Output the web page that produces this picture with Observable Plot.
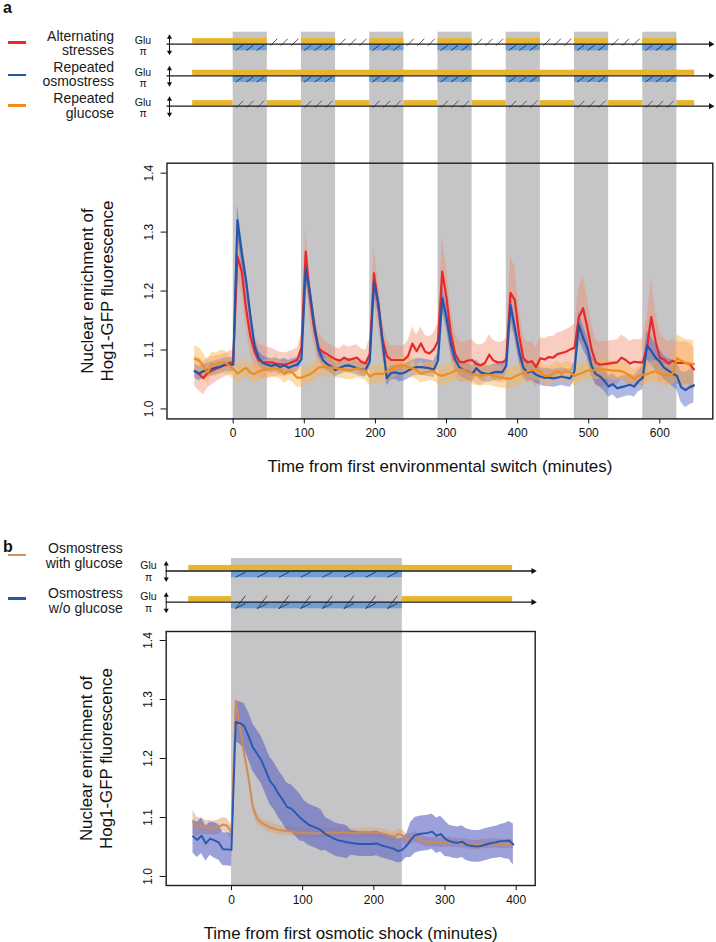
<!DOCTYPE html>
<html>
<head>
<meta charset="utf-8">
<script src="https://cdn.jsdelivr.net/npm/d3@7"></script>
<script src="https://cdn.jsdelivr.net/npm/@observablehq/plot@0.6"></script>
<style>
  body { margin: 0; background: #fff; font-family: "Liberation Sans", Arial, Helvetica, sans-serif; }
  #root { position: relative; width: 716px; height: 942px; overflow: hidden; background: #fff; }
  .abs { position: absolute; left: 0; }
  .lg { position: absolute; font-size: 14px; line-height: 14.5px; text-align: right; color: #1a1a1a; white-space: nowrap; }
  .sw { position: absolute; height: 2.6px; width: 17.5px; left: 8px; }
  .pl { position: absolute; left: 3px; font-size: 16px; font-weight: bold; line-height: 16px; color: #111; }
</style>
</head>
<body>
<div id="root"></div>
<script>
// ---------------- DATA ----------------
// Panel a: time grid (minutes) and mean / half-width of the confidence band
const timesA = d3.range(-54, 649, 6);
const redA = [1.064,1.059,1.052,1.061,1.065,1.068,1.071,1.074,1.078,1.079,
  1.259,1.233,1.171,1.124,1.097,1.083,1.079,1.079,1.079,1.077,
  1.076,1.075,1.077,1.080,1.083,1.104,1.267,1.188,1.135,1.103,
  1.097,1.093,1.088,1.084,1.082,1.087,1.083,1.085,1.087,1.080,
  1.077,1.093,1.230,1.177,1.118,1.090,1.083,1.083,1.083,1.083,
  1.090,1.111,1.098,1.111,1.097,1.094,1.101,1.115,1.233,1.188,
  1.129,1.094,1.080,1.079,1.082,1.083,1.076,1.074,1.078,1.092,
  1.082,1.079,1.079,1.083,1.197,1.185,1.126,1.086,1.079,1.081,
  1.071,1.086,1.084,1.088,1.087,1.093,1.095,1.097,1.101,1.104,
  1.155,1.171,1.138,1.101,1.079,1.075,1.076,1.077,1.078,1.079,
  1.087,1.083,1.077,1.080,1.079,1.079,1.104,1.156,1.115,1.087,
  1.084,1.077,1.082,1.078,1.078,1.078,1.076,1.067];
const blueA = [1.064,1.060,1.064,1.066,1.068,1.070,1.072,1.075,1.075,1.075,
  1.320,1.265,1.219,1.160,1.107,1.086,1.078,1.075,1.073,1.075,
  1.071,1.074,1.070,1.073,1.075,1.084,1.238,1.197,1.143,1.101,
  1.083,1.076,1.072,1.066,1.070,1.073,1.074,1.072,1.069,1.067,
  1.066,1.080,1.215,1.180,1.115,1.052,1.061,1.062,1.060,1.061,
  1.065,1.069,1.071,1.071,1.070,1.069,1.067,1.082,1.188,1.155,
  1.112,1.084,1.071,1.066,1.063,1.059,1.069,1.062,1.060,1.059,
  1.062,1.063,1.062,1.073,1.176,1.138,1.098,1.070,1.062,1.064,
  1.058,1.055,1.053,1.053,1.052,1.053,1.055,1.053,1.052,1.064,
  1.143,1.121,1.104,1.073,1.059,1.055,1.048,1.038,1.042,1.035,
  1.037,1.039,1.041,1.038,1.047,1.053,1.108,1.098,1.087,1.080,
  1.070,1.065,1.060,1.056,1.037,1.032,1.037,1.040];
const orangeA = [1.085,1.082,1.073,1.062,1.076,1.075,1.079,1.079,1.074,1.068,
  1.060,1.065,1.070,1.062,1.059,1.064,1.066,1.067,1.069,1.069,
  1.067,1.059,1.065,1.061,1.053,1.053,1.056,1.059,1.064,1.070,
  1.071,1.071,1.070,1.069,1.068,1.067,1.066,1.066,1.069,1.067,
  1.065,1.055,1.059,1.060,1.059,1.064,1.067,1.070,1.074,1.074,
  1.071,1.069,1.066,1.060,1.062,1.064,1.064,1.058,1.056,1.059,
  1.061,1.065,1.067,1.066,1.062,1.059,1.058,1.056,1.058,1.058,
  1.056,1.055,1.053,1.052,1.051,1.055,1.058,1.061,1.064,1.066,
  1.065,1.064,1.056,1.056,1.060,1.064,1.060,1.064,1.062,1.056,
  1.059,1.062,1.065,1.065,1.066,1.067,1.067,1.066,1.065,1.065,
  1.064,1.061,1.056,1.051,1.056,1.058,1.059,1.062,1.064,1.060,
  1.058,1.057,1.060,1.086,1.082,1.078,1.077,1.076];
const redSpreadA = [0.026,0.028,0.028,0.026,0.024,0.022,0.020,0.020,0.020,0.020,
  0.040,0.036,0.032,0.030,0.028,0.028,0.028,0.026,0.024,0.022,
  0.020,0.020,0.020,0.020,0.020,0.024,0.040,0.036,0.030,0.026,
  0.022,0.020,0.020,0.020,0.020,0.022,0.022,0.022,0.022,0.022,
  0.022,0.026,0.045,0.040,0.032,0.026,0.024,0.024,0.024,0.024,
  0.026,0.028,0.028,0.028,0.028,0.028,0.028,0.030,0.058,0.050,
  0.042,0.036,0.034,0.034,0.034,0.034,0.034,0.034,0.034,0.034,
  0.034,0.034,0.034,0.036,0.062,0.056,0.046,0.036,0.034,0.034,
  0.034,0.035,0.035,0.035,0.036,0.036,0.036,0.037,0.037,0.040,
  0.050,0.056,0.050,0.042,0.038,0.038,0.038,0.038,0.038,0.038,
  0.038,0.038,0.038,0.038,0.038,0.040,0.050,0.066,0.052,0.042,
  0.036,0.036,0.036,0.036,0.036,0.036,0.036,0.036];
const blueSpreadA = [0.012,0.012,0.012,0.012,0.012,0.012,0.012,0.012,0.012,0.012,
  0.026,0.022,0.018,0.016,0.014,0.012,0.012,0.012,0.012,0.012,
  0.012,0.012,0.012,0.012,0.012,0.012,0.020,0.018,0.015,0.013,
  0.012,0.012,0.012,0.012,0.012,0.012,0.012,0.012,0.012,0.012,
  0.012,0.012,0.020,0.018,0.015,0.013,0.012,0.012,0.014,0.014,
  0.014,0.014,0.014,0.014,0.014,0.014,0.014,0.014,0.022,0.020,
  0.016,0.014,0.014,0.014,0.014,0.014,0.014,0.014,0.014,0.014,
  0.014,0.014,0.014,0.014,0.020,0.018,0.016,0.015,0.015,0.015,
  0.015,0.015,0.015,0.015,0.015,0.015,0.015,0.015,0.015,0.016,
  0.022,0.020,0.018,0.018,0.018,0.018,0.018,0.018,0.018,0.018,
  0.018,0.018,0.018,0.018,0.018,0.020,0.024,0.024,0.022,0.020,
  0.020,0.020,0.022,0.024,0.026,0.030,0.030,0.030];
const orangeSpreadA = [0.022,0.022,0.022,0.020,0.020,0.020,0.020,0.020,0.018,0.016,
  0.016,0.016,0.016,0.016,0.016,0.016,0.016,0.016,0.016,0.016,
  0.016,0.016,0.016,0.016,0.016,0.016,0.016,0.016,0.016,0.016,
  0.016,0.016,0.016,0.016,0.016,0.016,0.016,0.016,0.016,0.016,
  0.016,0.016,0.016,0.016,0.016,0.016,0.016,0.016,0.016,0.016,
  0.016,0.016,0.016,0.016,0.016,0.016,0.016,0.017,0.017,0.017,
  0.017,0.017,0.017,0.017,0.018,0.018,0.018,0.018,0.018,0.018,
  0.018,0.018,0.018,0.018,0.018,0.018,0.018,0.018,0.017,0.017,
  0.017,0.017,0.017,0.017,0.017,0.017,0.017,0.017,0.017,0.017,
  0.016,0.016,0.016,0.016,0.016,0.016,0.016,0.016,0.016,0.016,
  0.016,0.016,0.016,0.016,0.016,0.018,0.018,0.018,0.018,0.018,
  0.018,0.018,0.018,0.040,0.040,0.040,0.040,0.040];

// Panel a: environment schedule (minutes)
const stressStartsA = [0, 96, 192, 288, 384, 480, 576];
const stressLenA = 48;
const conditionsA = [["Alternating", "stresses"], ["Repeated", "osmostress"], ["Repeated", "glucose"]];
const glucoseOnA = [
  [[-57,48],[96,144],[192,240],[288,336],[384,432],[480,528],[576,624]],
  [[-57,649]],
  [[-57,0],[48,96],[144,192],[240,288],[336,384],[432,480],[528,576],[624,649]]
];
const glucoseOffA = [
  [[48,96],[144,192],[240,288],[336,384],[432,480],[528,576]],
  [],
  [[0,48],[96,144],[192,240],[288,336],[384,432],[480,528],[576,624]]
];
const osmoA = [
  [[0,48],[96,144],[192,240],[288,336],[384,432],[480,528],[576,624]],
  [[0,48],[96,144],[192,240],[288,336],[384,432],[480,528],[576,624]],
  []
];
const xTicksA = [0, 100, 200, 300, 400, 500, 600];
const xTitleA = "Time from first environmental switch (minutes)";

// Panel b
const timesB = d3.range(-54, 397, 6);
const brownB = [1.092,1.084,1.085,1.083,1.083,1.082,1.084,1.088,1.086,1.075,
  1.298,1.252,1.208,1.168,1.118,1.098,1.091,1.087,1.083,1.081,
  1.079,1.078,1.077,1.076,1.075,1.074,1.074,1.073,1.073,1.073,
  1.074,1.074,1.075,1.074,1.074,1.075,1.074,1.074,1.073,1.073,
  1.074,1.074,1.074,1.074,1.073,1.072,1.070,1.067,1.072,1.070,
  1.061,1.064,1.067,1.063,1.060,1.058,1.058,1.058,1.057,1.058,
  1.058,1.057,1.057,1.056,1.055,1.054,1.053,1.054,1.055,1.055,
  1.056,1.056,1.055,1.055,1.055,1.055];
const blueB = [1.068,1.062,1.069,1.056,1.064,1.061,1.058,1.046,1.046,1.045,
  1.262,1.260,1.255,1.238,1.219,1.208,1.197,1.180,1.162,1.153,
  1.140,1.130,1.118,1.115,1.108,1.100,1.094,1.088,1.085,1.082,
  1.078,1.072,1.068,1.064,1.061,1.060,1.058,1.057,1.056,1.055,
  1.055,1.055,1.055,1.056,1.053,1.051,1.049,1.047,1.043,1.045,
  1.052,1.062,1.070,1.072,1.073,1.074,1.076,1.069,1.072,1.064,
  1.060,1.058,1.057,1.059,1.054,1.052,1.051,1.051,1.053,1.055,
  1.057,1.058,1.060,1.060,1.061,1.054];
const brownSpreadB = [0.020,0.016,0.014,0.012,0.012,0.012,0.012,0.012,0.012,0.012,
  0.012,0.012,0.012,0.012,0.010,0.010,0.008,0.008,0.008,0.008,
  0.008,0.008,0.008,0.008,0.008,0.008,0.008,0.008,0.008,0.008,
  0.008,0.008,0.008,0.008,0.008,0.008,0.008,0.008,0.008,0.008,
  0.008,0.008,0.008,0.008,0.008,0.008,0.008,0.008,0.009,0.010,
  0.010,0.009,0.009,0.008,0.008,0.008,0.008,0.008,0.008,0.008,
  0.008,0.008,0.008,0.008,0.008,0.008,0.008,0.008,0.008,0.008,
  0.008,0.008,0.008,0.008,0.008,0.008];
const blueSpreadB = [0.028,0.030,0.030,0.030,0.028,0.030,0.030,0.028,0.028,0.028,
  0.034,0.036,0.038,0.040,0.040,0.040,0.040,0.040,0.040,0.040,
  0.040,0.040,0.040,0.040,0.040,0.040,0.035,0.035,0.035,0.035,
  0.035,0.028,0.028,0.028,0.028,0.028,0.028,0.021,0.021,0.021,
  0.021,0.021,0.021,0.021,0.021,0.021,0.021,0.021,0.020,0.020,
  0.020,0.030,0.030,0.030,0.030,0.030,0.030,0.030,0.030,0.030,
  0.027,0.027,0.027,0.027,0.027,0.027,0.027,0.027,0.027,0.027,
  0.027,0.027,0.028,0.030,0.032,0.035];
const stressStartsB = [0];
const stressLenB = 240;
const conditionsB = [["Osmostress", "with glucose"], ["Osmostress", "w/o glucose"]];
const glucoseOnB = [[[-60,395]], [[-60,0],[240,395]]];
const glucoseOffB = [[], [[0,240]]];
const osmoB = [[[0,240]], [[0,240]]];
const xTicksB = [0, 100, 200, 300, 400];
const xTitleB = "Time from first osmotic shock (minutes)";

const yTicks = [1.0, 1.1, 1.2, 1.3, 1.4];
const yTitle = "Nuclear enrichment of\nHog1-GFP fluorescence";

// ---------------- STYLE / LAYOUT ----------------
const FONT = '"Liberation Sans", Arial, Helvetica, sans-serif';
const GRAY = "#c5c5c7";
const YELLOW = "#e7b42e";
const BLUEBAR = "#6e9fd6";
const root = document.getElementById("root");

function place(node, top) {
  const d = document.createElement("div");
  d.className = "abs";
  d.style.top = top + "px";
  d.appendChild(node);
  root.appendChild(d);
}

function schematic(cfg) {
  const {rowsY, on, off, osmo, stressStarts, stressLen, xDomain, mL, mR, height, grayTop, hatch, glu} = cfg;
  const k = (716 - mL - mR) / (xDomain[1] - xDomain[0]);
  const segs = [];
  on.forEach((list, r) => list.forEach(([a, b]) => segs.push({row: r, kind: "on", x1: a, x2: b})));
  off.forEach((list, r) => list.forEach(([a, b]) => segs.push({row: r, kind: "off", x1: a, x2: b})));
  osmo.forEach((list, r) => list.forEach(([a, b]) => segs.push({row: r, kind: "osmo", x1: a, x2: b})));
  const dashes = {off: [], osmo: []};
  segs.forEach(s => {
    if (s.kind === "on") return;
    const h = hatch[s.kind];
    const wpx = (s.x2 - s.x1) * k;
    for (let p = h.offset; p + h.w <= wpx + 0.5; p += h.step)
      dashes[s.kind].push({row: s.row, xa: s.x1 + p / k, xb: s.x1 + (p + h.w) / k});
  });
  const rows = rowsY.map((_, i) => i);
  return Plot.plot({
    width: 716, height, marginLeft: mL, marginRight: mR, marginTop: 0, marginBottom: 0,
    x: {domain: xDomain, axis: null},
    y: {type: "identity", axis: null},
    style: {fontFamily: FONT, color: "#111", background: "transparent", overflow: "visible"},
    marks: [
      Plot.rect(stressStarts, {x1: d => d, x2: d => d + stressLen, y1: grayTop, y2: height, fill: GRAY}),
      Plot.rect(segs.filter(s => s.kind === "on"), {x1: "x1", x2: "x2", y1: s => rowsY[s.row] - 5.6, y2: s => rowsY[s.row] - 0.3, fill: YELLOW}),
      Plot.rect(segs.filter(s => s.kind === "osmo"), {x1: "x1", x2: "x2", y1: s => rowsY[s.row] + 0.3, y2: s => rowsY[s.row] + 6.6, fill: BLUEBAR}),
      Plot.link(dashes.off, {x1: "xa", x2: "xb", y1: d => rowsY[d.row] + hatch.off.yb, y2: d => rowsY[d.row] + hatch.off.yt, stroke: hatch.off.color, strokeWidth: 1}),
      Plot.link(dashes.osmo, {x1: "xa", x2: "xb", y1: d => rowsY[d.row] + hatch.osmo.yb, y2: d => rowsY[d.row] + hatch.osmo.yt, stroke: hatch.osmo.color, strokeWidth: 1}),
      Plot.ruleY(rows, {y: i => rowsY[i], x1: xDomain[0], x2: xDomain[1], stroke: "#1a1a1a", strokeWidth: 1.3}),
      Plot.dot(rows, {x: xDomain[1], y: i => rowsY[i], dx: -2, symbol: "triangle", rotate: 90, r: 2.3, fill: "#111", stroke: "none"}),
      Plot.ruleX(rows, {x: xDomain[0], dx: glu.arrowDx, y1: i => rowsY[i] - 7, y2: i => rowsY[i] + 8, stroke: "#111", strokeWidth: 1}),
      Plot.dot(rows, {x: xDomain[0], dx: glu.arrowDx, y: i => rowsY[i] - 7, symbol: "triangle", rotate: 0, r: 1.9, fill: "#111", stroke: "none"}),
      Plot.dot(rows, {x: xDomain[0], dx: glu.arrowDx, y: i => rowsY[i] + 8, symbol: "triangle", rotate: 180, r: 1.9, fill: "#111", stroke: "none"}),
      Plot.text(rows, {frameAnchor: "left", dx: glu.dx, y: i => rowsY[i] + glu.gluDy, text: () => "Glu", fontSize: 10.5, textAnchor: "middle", fill: "#111"}),
      Plot.text(rows, {frameAnchor: "left", dx: glu.dx, y: i => rowsY[i] + glu.piDy, text: () => "π", fontSize: 10.5, textAnchor: "middle", fill: "#111"})
    ]
  });
}

function mainPlot(cfg) {
  const {series, times, xDomain, yDomain, mL, mR, mT, mB, height, stressStarts, stressLen, xTicks, xTitle, lineWidth} = cfg;
  const areas = [], lines = [];
  series.forEach(s => {
    const data = times.map((t, i) => ({t, v: s.values[i], lo: s.values[i] - s.spread[i], hi: s.values[i] + s.spread[i]}));
    areas.push(Plot.areaY(data, {x: "t", y1: "lo", y2: "hi", fill: s.band, fillOpacity: s.bandOpacity}));
    lines.push(Plot.line(data, {x: "t", y: "v", stroke: s.color, strokeWidth: lineWidth}));
  });
  return Plot.plot({
    width: 716, height, marginLeft: mL, marginRight: mR, marginTop: mT, marginBottom: mB,
    x: {domain: xDomain},
    y: {domain: yDomain},
    style: {fontFamily: FONT, color: "#111", background: "transparent", overflow: "visible"},
    marks: [
      Plot.rect(stressStarts, {x1: d => d, x2: d => d + stressLen, fill: GRAY}),
      ...areas,
      ...lines,
      Plot.frame({stroke: "#1c1c1c", strokeWidth: 1.4}),
      Plot.axisX({ticks: xTicks, tickSize: 5, tickPadding: 5, fontSize: 12, label: null, tickFormat: d => String(d)}),
      Plot.axisY({ticks: yTicks, tickSize: 6, tickPadding: 8, tickRotate: -90, fontSize: 12, label: null, tickFormat: d3.format(".1f")}),
      Plot.text([xTitle], {frameAnchor: "bottom", dy: 48, text: d => d, fontSize: 16.9, lineAnchor: "middle", fill: "#111"}),
      Plot.text([yTitle], {frameAnchor: "left", dx: -70.5, rotate: -90, text: d => d, fontSize: 16.9, lineHeight: 1.2, textAnchor: "middle", lineAnchor: "middle", fill: "#111"})
    ]
  });
}

function legend(labels, colors, centers, right) {
  labels.forEach((lines, i) => {
    const sw = document.createElement("div");
    sw.className = "sw";
    sw.style.top = (centers[i].line - 1.3) + "px";
    sw.style.background = colors[i];
    root.appendChild(sw);
    const tx = document.createElement("div");
    tx.className = "lg";
    tx.style.right = (716 - right) + "px";
    tx.style.top = (centers[i].text - 14.5) + "px";
    tx.innerHTML = lines.join("<br>");
    root.appendChild(tx);
  });
}

function label(ch, top) {
  const d = document.createElement("div");
  d.className = "pl"; d.style.top = top + "px"; d.textContent = ch;
  root.appendChild(d);
}

// ---------------- PANEL a ----------------
const xDomA = [-93.1, 674.5];
label("a", 0);
place(schematic({
  rowsY: [43.7, 75.3, 105.7], on: glucoseOnA, off: glucoseOffA, osmo: osmoA,
  stressStarts: stressStartsA, stressLen: stressLenA, xDomain: xDomA, mL: 166.5, mR: 3.7, height: 163, grayTop: 31.7,
  hatch: {off: {offset: 3, w: 7, step: 10.5, yb: 1.5, yt: -5.5, color: "#5a5a5a"}, osmo: {offset: 2.5, w: 7, step: 10.5, yb: 6.3, yt: 1.2, color: "#2b3d5e"}},
  glu: {dx: -24, gluDy: -3.6, piDy: 7.6, arrowDx: 2.5}
}), 0);
legend(conditionsA, ["#e8282c", "#2556a8", "#f28d1d"],
  [{line: 42.7, text: 43.2}, {line: 75, text: 74}, {line: 105.3, text: 105.5}], 114);
place(mainPlot({
  series: [
    {values: redA, spread: redSpreadA, color: "#e8282c", band: "#f08a6a", bandOpacity: 0.42},
    {values: blueA, spread: blueSpreadA, color: "#2556a8", band: "#4d5fc2", bandOpacity: 0.45},
    {values: orangeA, spread: orangeSpreadA, color: "#f28d1d", band: "#f8b450", bandOpacity: 0.45}
  ],
  times: timesA, xDomain: xDomA, yDomain: [0.9831, 1.4169], mL: 166.5, mR: 3.7, mT: 12.7, mB: 61.6, height: 330,
  stressStarts: stressStartsA, stressLen: stressLenA, xTicks: xTicksA, xTitle: xTitleA, lineWidth: 2.2
}), 150);

// ---------------- PANEL b ----------------
const xDomB = [-91.7, 426.7];
label("b", 539);
place(schematic({
  rowsY: [40.5, 71.7], on: glucoseOnB, off: glucoseOffB, osmo: osmoB,
  stressStarts: stressStartsB, stressLen: stressLenB, xDomain: xDomB, mL: 165.7, mR: 181.3, height: 101, grayTop: 28,
  hatch: {off: {offset: 4, w: 10, step: 21.7, yb: 6.5, yt: -6.5, color: "#4a4a4a"}, osmo: {offset: 4, w: 10, step: 21.7, yb: 6.3, yt: 1.2, color: "#2b3d5e"}},
  glu: {dx: -17.7, gluDy: -5.4, piDy: 6.2, arrowDx: 0}
}), 530);
legend(conditionsB, ["#d2915e", "#2858b0"],
  [{line: 555, text: 555.5}, {line: 598.3, text: 600.8}], 122.7);
place(mainPlot({
  series: [
    {values: brownB, spread: brownSpreadB, color: "#cf8b55", band: "#dda47a", bandOpacity: 0.55},
    {values: blueB, spread: blueSpreadB, color: "#2858b0", band: "#5a63c2", bandOpacity: 0.6}
  ],
  times: timesB, xDomain: xDomB, yDomain: [0.9847, 1.4153], mL: 165.7, mR: 181.3, mT: 11, mB: 57, height: 322,
  stressStarts: stressStartsB, stressLen: stressLenB, xTicks: xTicksB, xTitle: xTitleB, lineWidth: 1.9
}), 620);
</script>
</body>
</html>
